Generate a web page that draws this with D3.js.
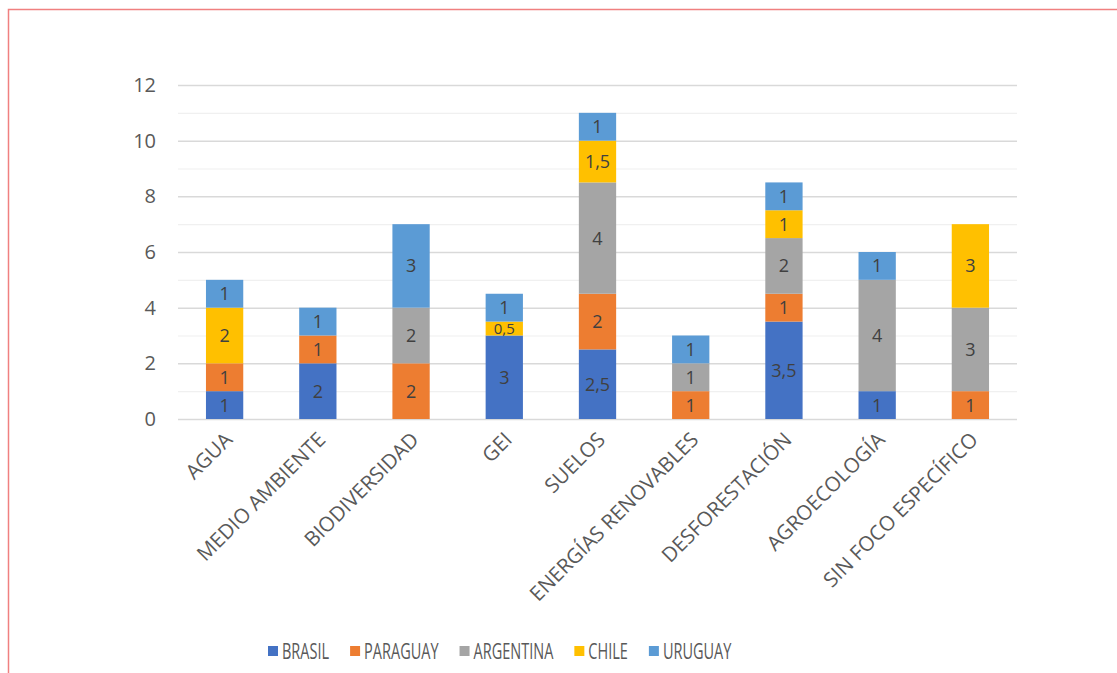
<!DOCTYPE html>
<html>
<head>
<meta charset="utf-8">
<script src="https://cdn.jsdelivr.net/npm/d3@7"></script>
<style>
  body { margin: 0; background: #fff; }
  svg { display: block; }
  svg text { font-family: "Open Sans", sans-serif; }
</style>
</head>
<body>
<div id="chart"></div>
<script>
    // categorias y valores por pais
    var categories = ["AGUA", "MEDIO AMBIENTE", "BIODIVERSIDAD", "GEI", "SUELOS",
        "ENERGÍAS RENOVABLES", "DESFORESTACIÓN", "AGROECOLOGÍA", "SIN FOCO ESPECÍFICO"];
    var countries = ["BRASIL", "PARAGUAY", "ARGENTINA", "CHILE", "URUGUAY"];
    var brasil    = [1, 2, 0, 3,   2.5, 0, 3.5, 1, 0];
    var paraguay  = [1, 1, 2, 0,   2,   1, 1,   0, 1];
    var argentina = [0, 0, 2, 0,   4,   1, 2,   4, 3];
    var chile     = [2, 0, 0, 0.5, 1.5, 0, 1,   0, 3];
    var uruguay   = [1, 1, 3, 1,   1,   1, 1,   1, 0];
    var yTicks = [0, 2, 4, 6, 8, 10, 12];
    var colors = ["#4472C4", "#ED7D31", "#A5A5A5", "#FFC000", "#5B9BD5"];

    var width = 1117, height = 673;
    var margin = {top: 85, right: 100, bottom: 254, left: 178};
    var innerW = width - margin.left - margin.right;
    var innerH = height - margin.top - margin.bottom;

    var svg = d3.select("#chart").append("svg")
        .attr("width", width)
        .attr("height", height);

    // marco rojo
    svg.append("rect")
        .attr("x", 8.5).attr("y", 9.5)
        .attr("width", width + 20).attr("height", height + 20)
        .attr("fill", "none")
        .attr("stroke", "#F08080")
        .attr("stroke-width", 1.5);

    var table = categories.map(function (c, i) {
        return {cat: c, BRASIL: brasil[i], PARAGUAY: paraguay[i], ARGENTINA: argentina[i],
            CHILE: chile[i], URUGUAY: uruguay[i]};
    });
    var series = d3.stack().keys(countries)(table);

    var x = d3.scaleBand().domain(categories).range([0, innerW]).paddingInner(0.6).paddingOuter(0.3);
    var y = d3.scaleLinear().domain([0, 12]).range([innerH, 0]);
    var color = d3.scaleOrdinal().domain(countries).range(colors);
    var fmt = d3.formatLocale({decimal: ",", thousands: ".", grouping: [3], currency: ["", ""]}).format("~g");

    var g = svg.append("g")
        .attr("transform", "translate(" + margin.left + "," + margin.top + ")");

    // lineas de cuadricula (menores y mayores)
    g.append("g")
        .call(d3.axisLeft(y).tickValues(d3.range(1, 12, 2)).tickSize(-innerW).tickFormat(""))
        .call(function (a) { a.select(".domain").remove(); })
        .selectAll("line").attr("stroke", "#F0F0F0").attr("stroke-width", 1.2);

    var yAxis = g.append("g")
        .call(d3.axisLeft(y).tickValues(yTicks).tickSize(-innerW).tickPadding(22))
        .attr("font-family", null)
        .call(function (a) { a.select(".domain").remove(); });
    yAxis.selectAll("line").attr("stroke", "#D9D9D9").attr("stroke-width", 1.5);
    yAxis.selectAll("text")
        .attr("fill", "#595959")
        .style("font-size", "20px");

    var layers = g.selectAll(".serie")
        .data(series)
        .enter().append("g")
        .attr("class", "serie")
        .attr("fill", function (d) { return color(d.key); });

    layers.selectAll("rect")
        .data(function (d) { return d.filter(function (p) { return p[1] - p[0] > 0; }); })
        .enter().append("rect")
        .attr("x", function (d) { return x(d.data.cat); })
        .attr("y", function (d) { return y(d[1]); })
        .attr("width", x.bandwidth())
        .attr("height", function (d) { return y(d[0]) - y(d[1]); });

    layers.selectAll("text")
        .data(function (d) { return d.filter(function (p) { return p[1] - p[0] > 0; }); })
        .enter().append("text")
        .attr("x", function (d) { return x(d.data.cat) + x.bandwidth() / 2; })
        .attr("y", function (d) { return (y(d[0]) + y(d[1])) / 2; })
        .attr("dy", "0.36em")
        .attr("text-anchor", "middle")
        .attr("fill", "#404040")
        .style("font-size", function (d) { return (d[1] - d[0]) < 1 ? "15px" : "18px"; })
        .text(function (d) { return fmt(d[1] - d[0]); });

    // eje x con etiquetas giradas
    var xAxis = g.append("g")
        .attr("transform", "translate(0," + innerH + ")")
        .call(d3.axisBottom(x).tickSize(0).tickPadding(0))
        .attr("font-family", null);
    xAxis.select(".domain").remove();
    xAxis.selectAll("text")
        .attr("fill", "#595959")
        .style("font-size", "20.5px")
        .attr("text-anchor", "end")
        .attr("x", 0).attr("y", 0).attr("dy", 0)
        .attr("transform", "translate(9,22) rotate(-45)");

    // leyenda
    var legend = svg.append("g").attr("transform", "translate(268,651)");
    var lx = 0;
    countries.forEach(function (c) {
        var item = legend.append("g").attr("transform", "translate(" + lx + ",0)");
        item.append("rect")
            .attr("x", 0).attr("y", -5)
            .attr("width", 10).attr("height", 10)
            .attr("fill", color(c));
        var t = item.append("text")
            .attr("x", 0).attr("dy", "0.36em")
            .attr("transform", "translate(14,0) scale(0.66,1)")
            .attr("fill", "#595959")
            .style("font-size", "22px")
            .text(c);
        lx += 14 + t.node().getComputedTextLength() * 0.66 + 21;
    });
</script>
</body>
</html>
